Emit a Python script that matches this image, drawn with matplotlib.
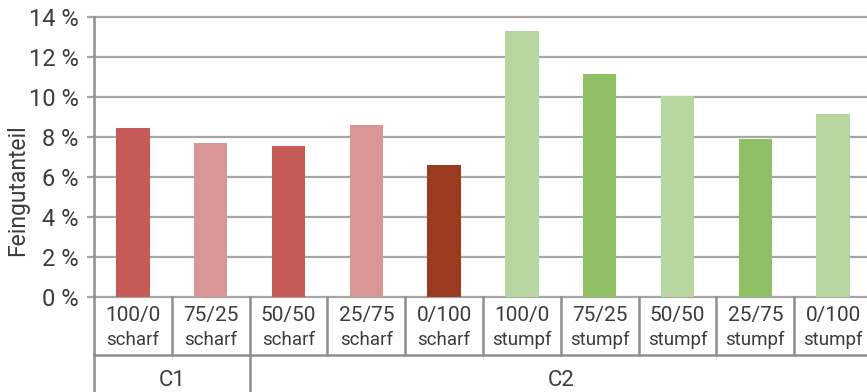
import matplotlib
matplotlib.use('Agg')
import matplotlib.pyplot as plt
import matplotlib.transforms as mtransforms
import numpy as np

ratios = ['100/0', '75/25', '50/50', '25/75', '0/100', '100/0', '75/25', '50/50', '25/75', '0/100']
edges = ['scharf'] * 5 + ['stumpf'] * 5
values = [8.45, 7.7, 7.55, 8.6, 6.6, 13.3, 11.15, 10.05, 7.9, 9.15]
colors = ['#C55A57', '#D99694', '#C55A57', '#D99694', '#9A3A1F',
          '#B7D59E', '#8FC063', '#B7D59E', '#8FC063', '#B7D59E']
groups = ['C1', 'C2']
group_sizes = [2, 8]
yticks = [0, 2, 4, 6, 8, 10, 12, 14]

plt.rcParams['font.family'] = ['Roboto', 'DejaVu Sans']
txt = '#3C3C3C'
grid_c = '#A6A6A6'
line_c = '#8E8E92'

fig = plt.figure(figsize=(8.67, 3.92), dpi=100)
ax = fig.add_axes([94 / 867, 1 - 297 / 392, 778 / 867, 280 / 392])
x = np.arange(len(values))
ax.bar(x, values, width=0.43, color=colors, zorder=3)
ax.set_xlim(-0.5, len(values) - 0.5)
ax.set_ylim(0, 14)
ax.set_yticks(yticks)
ax.set_yticklabels([f'{v} %' for v in yticks])
ax.grid(axis='y', color=grid_c, lw=1.6, zorder=0)
for gl in ax.get_ygridlines():
    gl.set_clip_on(False)
for s in ['top', 'right', 'bottom']:
    ax.spines[s].set_visible(False)
ax.spines['left'].set_color(line_c)
ax.spines['left'].set_linewidth(1.8)
ax.tick_params(axis='y', length=5, width=1.6, color=grid_c, pad=6, labelsize=17, labelcolor=txt)
ax.tick_params(axis='x', bottom=False, labelbottom=False)

trans = mtransforms.blended_transform_factory(ax.transData, ax.transAxes)
r1 = -(355 - 297) / 280
bot = -0.5
lw = 1.8
ax.plot([-0.5, len(values) - 0.5], [r1, r1], color=line_c, lw=lw, transform=trans, clip_on=False)
for i in range(len(values) + 1):
    ax.plot([i - 0.5, i - 0.5], [0, r1], color=line_c, lw=lw, transform=trans, clip_on=False)
start = 0
bounds = [0]
for g in group_sizes:
    start += g
    bounds.append(start)
for b in bounds:
    ax.plot([b - 0.5, b - 0.5], [r1, bot], color=line_c, lw=lw, transform=trans, clip_on=False)

for i in range(len(values)):
    ax.text(i, -(316 - 297) / 280, ratios[i], transform=trans, ha='center', va='center',
            fontsize=15, color=txt)
    ax.text(i, -(340 - 297) / 280, edges[i], transform=trans, ha='center', va='center',
            fontsize=13.5, color=txt)
for gi, g in enumerate(groups):
    c = (bounds[gi] + bounds[gi + 1] - 1) / 2
    ax.text(c, -(380 - 297) / 280, g, transform=trans, ha='center', va='center',
            fontsize=16, color=txt)

fig.text(18 / 867, 1 - 190 / 392, 'Feingutanteil', rotation=90, ha='center', va='center',
         fontsize=16.5, color=txt)

fig.savefig('out.png', dpi=100)
